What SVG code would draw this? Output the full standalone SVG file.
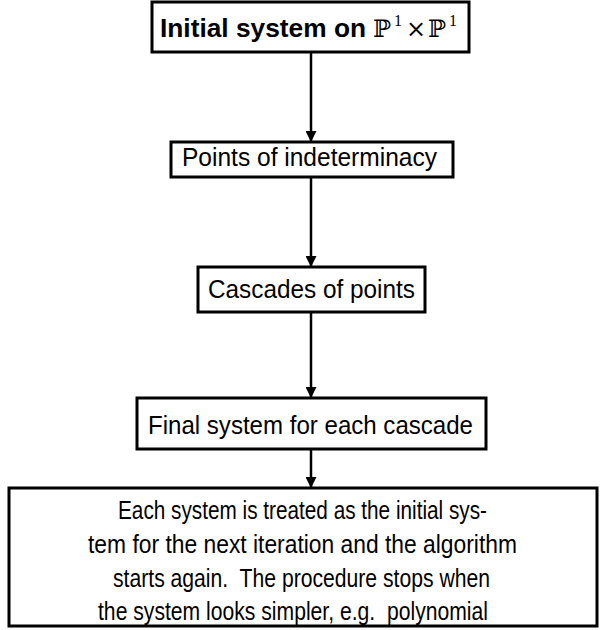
<svg xmlns="http://www.w3.org/2000/svg" width="605" height="630" viewBox="0 0 605 630">
<style>
.box{fill:#fff;stroke:#000;stroke-width:3}
.t{font-family:"Liberation Sans","DejaVu Sans",sans-serif;font-size:25px;fill:#000}
.lg{font-size:26px}
.b{font-weight:bold}
.m{font-family:"DejaVu Serif","Liberation Serif",serif;font-size:24px;fill:#000}
.sup{font-family:"Liberation Serif","DejaVu Serif",serif;font-size:16px;fill:#000}
.conn{stroke:#000;stroke-width:2.5;fill:none;marker-end:url(#ah)}
</style>
<defs>
<marker id="ah" viewBox="0 0 10 10" refX="9" refY="5" markerWidth="4.8" markerHeight="4.4" orient="auto" markerUnits="strokeWidth">
<path d="M0,0 L10,5 L0,10 Z" fill="#000"/>
</marker>
</defs>
<g id="connectors">
<line class="conn" x1="311" y1="52" x2="311" y2="141"/>
<line class="conn" x1="311" y1="177" x2="311" y2="266"/>
<line class="conn" x1="311" y1="312" x2="311" y2="397"/>
<line class="conn" x1="311" y1="449" x2="311" y2="487"/>
</g>
<g id="n1">
<rect class="box" x="152" y="2" width="317" height="50"/>
<text class="t b" x="160" y="37" textLength="206" lengthAdjust="spacingAndGlyphs">Initial system on</text>
<text class="m" x="373" y="37">ℙ</text>
<text class="sup" x="394" y="26">1</text>
<text class="m" x="406" y="37" font-size="20">×</text>
<text class="m" x="428" y="37">ℙ</text>
<text class="sup" x="449" y="26">1</text>
</g>
<g id="n2">
<rect class="box" x="171" y="142" width="282" height="35"/>
<text class="t" x="182" y="166" textLength="255" lengthAdjust="spacingAndGlyphs">Points of indeterminacy</text>
</g>
<g id="n3">
<rect class="box" x="198" y="267" width="227" height="45"/>
<text class="t" x="208" y="298" textLength="207" lengthAdjust="spacingAndGlyphs">Cascades of points</text>
</g>
<g id="n4">
<rect class="box" x="137" y="398" width="349" height="51"/>
<text class="t" x="148" y="434" textLength="325" lengthAdjust="spacingAndGlyphs">Final system for each cascade</text>
</g>
<g id="n5">
<rect class="box" x="9" y="488" width="588" height="138"/>
<text class="t lg" x="118" y="519" textLength="369" lengthAdjust="spacingAndGlyphs">Each system is treated as the initial sys-</text>
<text class="t lg" x="88" y="553" textLength="429" lengthAdjust="spacingAndGlyphs">tem for the next iteration and the algorithm</text>
<text class="t lg" x="113" y="587" textLength="377" lengthAdjust="spacingAndGlyphs" xml:space="preserve">starts again.  The procedure stops when</text>
<text class="t lg" x="98" y="620" textLength="390" lengthAdjust="spacingAndGlyphs" xml:space="preserve">the system looks simpler, e.g.  polynomial</text>
</g>
</svg>
